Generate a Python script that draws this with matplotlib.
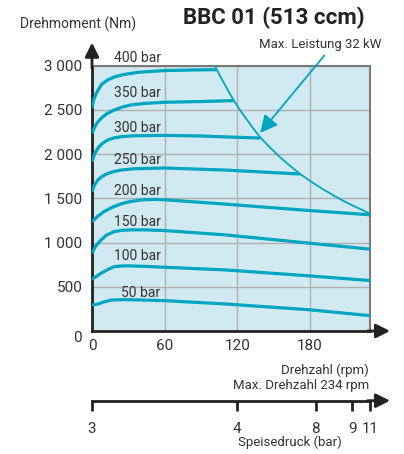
import matplotlib
matplotlib.use('Agg')
import matplotlib.pyplot as plt

plt.rcParams['font.family'] = ['Roboto', 'DejaVu Sans']

# torque curves (Nm) vs speed (rpm)
rpm_400 = [0, 1.5, 4, 8, 13, 19, 26, 38, 60, 85, 103]
nm_400 = [2520, 2620, 2700, 2790, 2840, 2875, 2900, 2925, 2945, 2952, 2955]
rpm_350 = [0, 2, 4, 7.5, 12, 18.5, 25, 32, 45, 60, 90, 117]
nm_350 = [2234, 2300, 2350, 2404, 2455, 2499, 2532, 2556, 2575, 2586, 2595, 2605]
rpm_300 = [0, 2, 4.8, 8, 13, 18, 24, 35, 60, 90, 110, 139]
nm_300 = [1914, 2000, 2065, 2115, 2160, 2183, 2197, 2208, 2212, 2205, 2195, 2182]
rpm_250 = [0, 2, 4.8, 8, 13, 18, 24, 35, 60, 110, 172]
nm_250 = [1574, 1650, 1706, 1745, 1781, 1803, 1820, 1835, 1843, 1820, 1775]
rpm_200 = [0, 5, 10, 17, 24, 32, 41, 50, 60, 110, 180, 230]
nm_200 = [1238, 1300, 1351, 1400, 1438, 1465, 1482, 1488, 1484, 1435, 1362, 1314]
rpm_150 = [0, 3, 7.5, 12, 18.5, 25, 32, 45, 60, 110, 180, 230]
nm_150 = [880, 960, 1030, 1085, 1125, 1138, 1144, 1143, 1136, 1087, 993, 925]
rpm_100 = [0, 7.5, 13, 18.5, 24, 30, 45, 60, 110, 180, 230]
nm_100 = [585, 653, 695, 728, 735, 737, 730, 721, 691, 623, 570]
rpm_50 = [0, 5, 10, 16, 25, 38, 60, 110, 180, 230]
nm_50 = [294, 305, 330, 350, 355, 352, 343, 306, 240, 173]

# max power line (32 kW)
rpm_pmax = [101.5, 106, 110, 114, 118, 123, 128, 133, 139, 146, 155, 163, 172,
            181, 190, 200, 210, 220, 230]
nm_pmax = [3000, 2880, 2780, 2680, 2590, 2485, 2390, 2295, 2190, 2090, 1970, 1875, 1775,
           1690, 1610, 1530, 1455, 1390, 1325]

curves = [(rpm_400, nm_400), (rpm_350, nm_350), (rpm_300, nm_300), (rpm_250, nm_250),
          (rpm_200, nm_200), (rpm_150, nm_150), (rpm_100, nm_100), (rpm_50, nm_50)]
labels = ['400 bar', '350 bar', '300 bar', '250 bar', '200 bar', '150 bar', '100 bar', '50 bar']
label_pos = [(18, 3092), (18, 2692), (18, 2296), (18, 1937), (18, 1578), (18, 1227), (18, 849), (24, 427)]

x_ticks = [0, 60, 120, 180]
y_ticks = [500, 1000, 1500, 2000, 2500, 3000]
y_ticklabels = ['500', '1 000', '1 500', '2 000', '2 500', '3 000']

# feed pressure scale below (positions on rpm axis)
feed_rpm = [0, 120, 185, 215, 230]
feed_labels = ['3', '4', '8', '9', '11']

teal = '#00a6c0'
txt = '#333333'

fig = plt.figure(figsize=(4.04, 4.54), dpi=100)
ax = fig.add_axes([0.2277, 0.2709, 0.6889, 0.5844])
ax.set_facecolor('#d1e9f0')
ax.set_xlim(0, 230)
ax.set_ylim(0, 3000)

ax.set_xticks(x_ticks)
ax.set_yticks(y_ticks)
ax.set_yticklabels(y_ticklabels)
ax.tick_params(length=0, labelsize=11, labelcolor=txt)
ax.tick_params(axis='y', pad=7)
ax.tick_params(axis='x', pad=6)
ax.grid(True, color='#b0b0b0', lw=1.0)
ax.set_axisbelow(True)

for s in ['top', 'right']:
    ax.spines[s].set_color('#7a7a7a')
    ax.spines[s].set_linewidth(1.5)
for s in ['left', 'bottom']:
    ax.spines[s].set_color('#222222')
    ax.spines[s].set_linewidth(2)

for (x, y), lab, (lx, ly) in zip(curves, labels, label_pos):
    ax.plot(x, y, color=teal, lw=2.3, solid_capstyle='butt', solid_joinstyle='round', zorder=3)
    ax.text(lx, ly, lab, fontsize=10, color=txt, ha='left', va='center')

ax.plot(rpm_pmax, nm_pmax, color=teal, lw=1.3, solid_joinstyle='round', zorder=3)

ax.annotate('', xy=(139, 2240), xytext=(192, 3115),
            arrowprops=dict(arrowstyle='-|>,head_length=0.7,head_width=0.35', color=teal,
                            lw=1.3, shrinkA=0, shrinkB=0, mutation_scale=15),
            annotation_clip=False, zorder=4)
ax.text(188.5, 3239, 'Max. Leistung 32 kW', fontsize=9.5, color=txt, ha='center', va='center',
        clip_on=False)

# axis arrows
ax.annotate('', xy=(0, 1.087), xytext=(0, 0.99), xycoords='axes fraction',
            arrowprops=dict(arrowstyle='-|>,head_length=0.6,head_width=0.3', color='#222222',
                            lw=2, shrinkA=0, shrinkB=0, mutation_scale=14))
ax.annotate('', xy=(1.071, 0), xytext=(0.99, 0), xycoords='axes fraction',
            arrowprops=dict(arrowstyle='-|>,head_length=0.6,head_width=0.3', color='#222222',
                            lw=2, shrinkA=0, shrinkB=0, mutation_scale=14))
ax.text(-0.035, -0.028, '0', transform=ax.transAxes, fontsize=11, color=txt, ha='right', va='center')

# feed pressure scale
ax2 = fig.add_axes([0.2277, 1 - 400.7 / 454, 0.6889, 0.0001])
ax2.set_xlim(0, 230)
ax2.set_yticks([])
for s in ['top', 'left', 'right']:
    ax2.spines[s].set_visible(False)
ax2.spines['bottom'].set_color('#222222')
ax2.spines['bottom'].set_linewidth(2)
ax2.set_xticks(feed_rpm)
ax2.set_xticklabels(feed_labels)
ax2.tick_params(axis='x', direction='out', length=7, width=2, color='#222222',
                labelsize=11, labelcolor=txt, pad=8)
ax2.annotate('', xy=(1.071, 0), xytext=(0.99, 0), xycoords='axes fraction',
             arrowprops=dict(arrowstyle='-|>,head_length=0.6,head_width=0.3', color='#222222',
                             lw=2, shrinkA=0, shrinkB=0, mutation_scale=14))

fig.text(274 / 404, 1 - 18 / 454, 'BBC 01 (513 ccm)', fontsize=16, fontweight='bold',
         color='#222222', ha='center', va='center')
fig.text(78 / 404, 1 - 24 / 454, 'Drehmoment (Nm)', fontsize=10, color=txt, ha='center', va='center')
fig.text(369 / 404, 1 - 370.7 / 454, 'Drehzahl (rpm)', fontsize=9.5, color=txt, ha='right', va='center')
fig.text(369 / 404, 1 - 385.7 / 454, 'Max. Drehzahl 234 rpm', fontsize=9.5, color=txt,
         ha='right', va='center')
fig.text(290 / 404, 1 - 442.7 / 454, 'Speisedruck (bar)', fontsize=9.5, color=txt,
         ha='center', va='center')

fig.savefig('out.png', dpi=100)
